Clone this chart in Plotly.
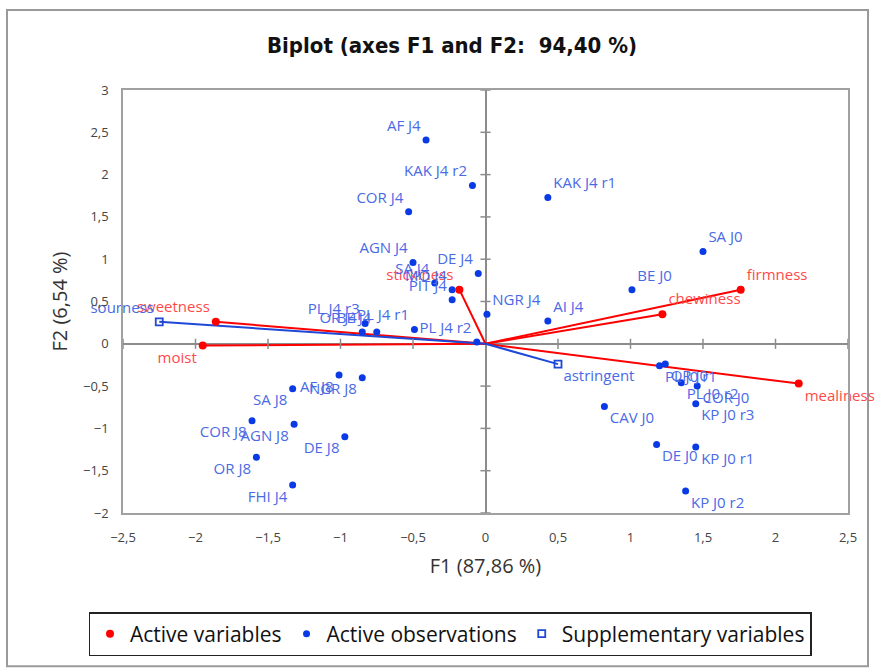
import plotly.graph_objects as go

# ---- Data ----
obs_names = ["AF J4", "KAK J4 r2", "KAK J4 r1", "COR J4", "AGN J4", "SA J4", "MO J4", "PIT J4",
             "DE J4", "NGR J4", "AI J4", "PL J4 r3", "OR J4", "BE J4", "PL J4 r1", "PL J4 r2",
             "FHI J4",
             "AF J8", "NGR J8", "SA J8", "COR J8", "AGN J8", "DE J8", "OR J8",
             "SA J0", "BE J0", "CAV J0", "DE J0", "KP J0 r1", "KP J0 r2", "KP J0 r3",
             "COR J0", "PL J0 r2", "PL J0 r1", "OR J0"]
obs_f1 = [-0.41, -0.09, 0.43, -0.53, -0.50, -0.35, -0.23, -0.23,
          -0.05, 0.01, 0.43, -0.83, -0.85, -0.75, -0.49, -0.06,
          -1.33,
          -1.01, -0.85, -1.33, -1.61, -1.32, -0.97, -1.58,
          1.50, 1.01, 0.82, 1.18, 1.45, 1.38, 1.45,
          1.46, 1.35, 1.20, 1.24]
obs_f2 = [2.41, 1.87, 1.73, 1.56, 0.96, 0.72, 0.64, 0.52,
          0.83, 0.35, 0.27, 0.24, 0.14, 0.14, 0.17, 0.02,
          -1.67,
          -0.37, -0.40, -0.53, -0.91, -0.95, -1.10, -1.34,
          1.09, 0.64, -0.74, -1.19, -1.22, -1.74, -0.71,
          -0.50, -0.46, -0.26, -0.24]
obs_label_pos = ["top left", "top left", "top right", "top left", "top left", "top left", "top left", "top left",
                 "top left", "top right", "top right", "top left", "top left", "top left", "top left", "top left",
                 "bottom left",
                 "bottom left", "bottom left", "bottom left", "bottom left", "bottom left", "bottom left", "bottom left",
                 "top right", "top right", "bottom right", "bottom right", "bottom right", "bottom right", "bottom right",
                 "bottom right", "bottom right", "bottom right", "bottom right"]

var_names = ["firmness", "chewiness", "mealiness", "sweetness", "moist", "stickiness"]
var_f1 = [1.76, 1.22, 2.16, -1.86, -1.95, -0.18]
var_f2 = [0.64, 0.35, -0.47, 0.26, -0.02, 0.64]
var_label_pos = ["top right", "top right", "bottom right", "top left", "bottom left", "top left"]

sup_names = ["sourness", "astringent"]
sup_f1 = [-2.25, 0.50]
sup_f2 = [0.26, -0.24]
sup_label_pos = ["top left", "bottom right"]

x_ticks = [-2.5, -2, -1.5, -1, -0.5, 0, 0.5, 1, 1.5, 2, 2.5]
y_ticks = [-2, -1.5, -1, -0.5, 0, 0.5, 1, 1.5, 2, 2.5, 3]

# ---- Styles ----
RED = "#ff0000"
RED_TXT = "#ff4a4a"
BLUE = "#0a3ae6"
BLUE_TXT = "#4a6ae6"
LBL_FONT = "Open Sans"
LBL_SIZE = 15

def segments(xs, ys):
    sx, sy = [], []
    for x, y in zip(xs, ys):
        sx += [0, x, None]
        sy += [0, y, None]
    return sx, sy

fig = go.Figure()

vx, vy = segments(var_f1, var_f2)
fig.add_trace(go.Scatter(x=vx, y=vy, mode="lines", line=dict(color=RED, width=2),
                         showlegend=False, hoverinfo="skip"))
sx, sy = segments(sup_f1, sup_f2)
fig.add_trace(go.Scatter(x=sx, y=sy, mode="lines", line=dict(color="#1d48d8", width=2),
                         showlegend=False, hoverinfo="skip"))

fig.add_trace(go.Scatter(x=var_f1, y=var_f2, mode="markers+text", name="Active variables",
                         text=var_names, textposition=var_label_pos, cliponaxis=False,
                         textfont=dict(color=RED_TXT, size=LBL_SIZE, family=LBL_FONT),
                         marker=dict(color=RED, size=8)))
fig.add_trace(go.Scatter(x=obs_f1, y=obs_f2, mode="markers+text", name="Active observations",
                         text=obs_names, textposition=obs_label_pos, cliponaxis=False,
                         textfont=dict(color=BLUE_TXT, size=LBL_SIZE, family=LBL_FONT),
                         marker=dict(color=BLUE, size=7)))
fig.add_trace(go.Scatter(x=sup_f1, y=sup_f2, mode="markers+text", name="Supplementary variables",
                         text=sup_names, textposition=sup_label_pos, cliponaxis=False,
                         textfont=dict(color=BLUE_TXT, size=LBL_SIZE, family=LBL_FONT),
                         marker=dict(symbol="square-open", color="#1d48d8", size=7,
                                     line=dict(width=1.8))))

# tick marks on the zero axes
shapes = []
for v in x_ticks:
    if v != 0:
        shapes.append(dict(type="line", xref="x", yref="y", x0=v, x1=v, y0=-0.06, y1=0.06,
                           line=dict(color="#8c8c8c", width=1.5)))
for v in y_ticks:
    if v != 0:
        shapes.append(dict(type="line", xref="x", yref="y", x0=-0.035, x1=0.035, y0=v, y1=v,
                           line=dict(color="#8c8c8c", width=1.5)))
# outer chart frame
shapes.append(dict(type="rect", xref="paper", yref="paper", x0=-0.16, x1=1.0276, y0=-0.362, y1=1.189,
                   line=dict(color="#9a9a9a", width=2), layer="below"))

fig.update_layout(
    width=876, height=668,
    margin=dict(l=123, r=28, t=90, b=155),
    paper_bgcolor="white", plot_bgcolor="white",
    separators=", ",
    title=dict(text="<b>Biplot (axes F1 and F2:  94,40 %)</b>", x=452 / 876, xanchor="center",
               y=1 - 45 / 668, yanchor="middle",
               font=dict(family="DejaVu Sans Condensed, Liberation Sans Narrow, Liberation Sans",
                         size=22, color="#111")),
    xaxis=dict(range=[-2.5, 2.5], tickvals=x_ticks, showgrid=False,
               zeroline=True, zerolinecolor="#8c8c8c", zerolinewidth=1.5,
               showline=True, mirror=True, linecolor="#a0a0a0", linewidth=1.5,
               ticks="", ticklabelstandoff=12,
               tickfont=dict(family="Open Sans", size=13, color="#444"),
               title=dict(text="F1 (87,86 %)", font=dict(family="Open Sans", size=20, color="#333"),
                          standoff=14)),
    yaxis=dict(range=[-2, 3], tickvals=y_ticks, showgrid=False,
               zeroline=True, zerolinecolor="#8c8c8c", zerolinewidth=1.5,
               showline=True, mirror=True, linecolor="#a0a0a0", linewidth=1.5,
               ticks="", ticklabelstandoff=10,
               tickfont=dict(family="Open Sans", size=13, color="#444"),
               title=dict(text="F2 (6,54 %)", font=dict(family="Open Sans", size=20, color="#333"),
                          standoff=10)),
    legend=dict(orientation="h", x=(450 - 123) / 725, xanchor="center", y=(513 - 612) / 423, yanchor="top",
                bordercolor="#222", borderwidth=1.5, font=dict(family="Open Sans", size=21, color="#111"),
                itemsizing="trace", tracegroupgap=0),
    shapes=shapes,
    showlegend=True,
)

fig.write_html("out.html")
